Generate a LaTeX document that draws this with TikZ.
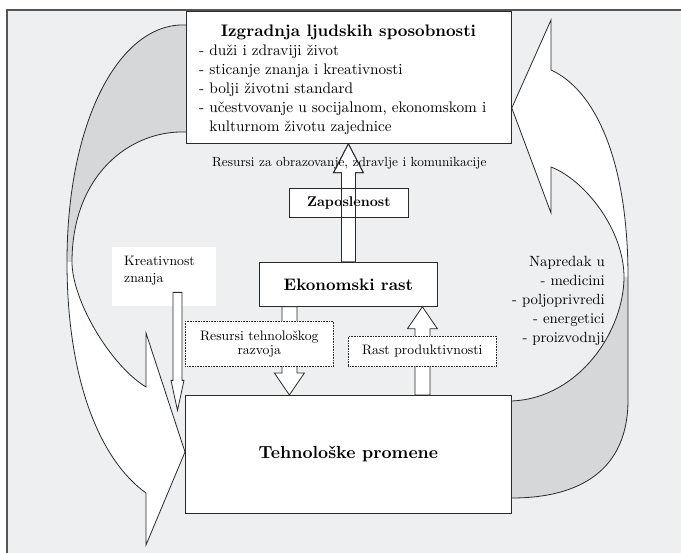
\documentclass[tikz,border=0pt]{standalone}
\usepackage{fontspec}
\setmainfont{lmroman10-regular.otf}[BoldFont=lmroman10-bold.otf, ItalicFont=lmroman10-italic.otf]
\usetikzlibrary{calc}
\definecolor{bgc}{HTML}{EEEFF1}
\definecolor{bandc}{HTML}{D6D7D9}
\definecolor{linec}{HTML}{2A2A2A}
\pgfdeclarelayer{back}
\pgfdeclarelayer{mid}
\pgfsetlayers{back,mid,main}
\newcommand\myvarrow[6]{%
  \path ($(#3)!#6pt!(#2)$) coordinate (hb);
  \draw[#1] ($(#2)+(-#4,0)$) -- ($(hb)+(-#4,0)$) -- ($(hb)+(-#5,0)$) -- (#3) -- ($(hb)+(#5,0)$) -- ($(hb)+(#4,0)$) -- ($(#2)+(#4,0)$) -- cycle;
}
\begin{document}
\begin{tikzpicture}[x=1pt,y=-1pt,
  box/.style={draw=linec, fill=white, line width=0.8pt, inner sep=0pt, rectangle},
  dotbox/.style={draw=linec, fill=white, line width=0.6pt, densely dotted, inner sep=0pt, rectangle},
  barrow/.style={draw=linec, fill=white, line width=0.8pt, line join=miter},
  bandline/.style={draw=linec, line width=0.8pt},
  head/.style={font=\fontsize{16.7}{20}\selectfont\bfseries, inner sep=0pt},
  body/.style={font=\fontsize{15.3}{19}\selectfont, inner sep=0pt},
  side/.style={font=\fontsize{14.8}{19}\selectfont, inner sep=0pt},
  small/.style={font=\fontsize{13.7}{14}\selectfont, inner sep=0pt},
]
\useasboundingbox (0,0) rectangle (681,553);
\begin{pgfonlayer}{back}
\path[fill=bgc] (7,10) rectangle (681,553);
\draw[linec!80, line width=1.2pt] (7,553) -- (7,10) -- (681,10);
\end{pgfonlayer}

% main boxes
\node[box, anchor=north west, minimum width=325pt, minimum height=132pt] (izg) at (186,11) {};
\node[box, anchor=north west, minimum width=326pt, minimum height=118pt, font=\fontsize{17.5}{20}\selectfont\bfseries] (teh) at (185,395) {Tehnološke promene};
\node[box, anchor=north west, minimum width=178pt, minimum height=44pt, font=\fontsize{16.65}{20}\selectfont\bfseries] (eko) at (259,262) {Ekonomski rast};

% curved arrows
\begin{pgfonlayer}{mid}
\coordinate (LA) at ($(izg.north west)+(0,14)$);
\coordinate (LB) at ($(izg.north west)+(0,121)$);
\coordinate (LT) at ($(teh.north west)+(0,57)$);
\path[fill=white] (LA) .. controls (120,22) and (67,120) .. (67,262) .. controls (67,380) and (100,460) .. (146,493) -- (146,545) -- (LT) -- (146,333) -- (146,387) .. controls (110,365) and (72,300) .. (72,262) .. controls (72,175) and (130,130) .. (LB) -- cycle;
\path[fill=bandc] (LA) .. controls (120,22) and (67,120) .. (67,262) -- (72,262) .. controls (72,175) and (130,130) .. (LB) -- cycle;
\draw[bandline] (LA) .. controls (120,22) and (67,120) .. (67,262) .. controls (67,380) and (100,460) .. (146,493) -- (146,545) -- (LT) -- (146,333) -- (146,387) .. controls (110,365) and (72,300) .. (72,262) .. controls (72,175) and (130,130) .. (LB);
\coordinate (RT) at ($(izg.north east)+(0,97)$);
\coordinate (RA) at ($(teh.north east)+(0,6)$);
\coordinate (RB) at ($(teh.north east)+(0,103)$);
\path[fill=white] (RB) .. controls (580,498) and (628,470) .. (628,400) -- (628,277) .. controls (628,160) and (595,90) .. (551,70) -- (551,20) -- (RT) -- (551,213) -- (551,167) .. controls (585,180) and (624,230) .. (624,277) .. controls (624,330) and (580,398) .. (RA) -- cycle;
\path[fill=bandc] (624,277) .. controls (624,330) and (580,398) .. (RA) -- (RB) .. controls (580,498) and (628,470) .. (628,400) -- (628,277) -- cycle;
\draw[bandline] (RB) .. controls (580,498) and (628,470) .. (628,400) -- (628,277) .. controls (628,160) and (595,90) .. (551,70) -- (551,20) -- (RT) -- (551,213) -- (551,167) .. controls (585,180) and (624,230) .. (624,277) .. controls (624,330) and (580,398) .. (RA);
\end{pgfonlayer}

% Izgradnja texts
\node[head, anchor=base] (izgt) at (348.5,37) {Izgradnja ljudskih sposobnosti};
\node[body, anchor=base west] (l1) at (199,56) {- duži i zdraviji život};
\node[body, anchor=base west] (l2) at (199,75) {- sticanje znanja i kreativnosti};
\node[body, anchor=base west] (l3) at (199,94) {- bolji životni standard};
\node[body, anchor=base west] (l4) at (199,113) {- učestvovanje u socijalnom, ekonomskom i};
\node[body, anchor=base west] (l5) at (199,132) {\phantom{- }kulturnom životu zajednice};

% up arrow to Izgradnja, with Zaposlenost
\coordinate (u2) at (izg.south -| eko.north);
\myvarrow{barrow}{eko.north}{u2}{7}{15}{29}
\node[small, font=\fontsize{13.3}{14}\selectfont, anchor=base west] (res) at (212,167) {Resursi za obrazovanje, zdravlje i komunikacije};
\node[box, anchor=north west, minimum width=119pt, minimum height=29pt, font=\fontsize{14.1}{17}\selectfont\bfseries] (zap) at (289,188) {Zaposlenost};
\myvarrow{barrow, fill=none}{eko.north}{u2}{7}{15}{29}

% down arrow: Resursi tehnoloskog razvoja
\coordinate (d1) at ([xshift=-59pt]eko.south);
\coordinate (d2) at (teh.north -| d1);
\myvarrow{barrow}{d1}{d2}{7.5}{15}{22}
\node[dotbox, anchor=north west, minimum width=148pt, minimum height=45pt, small, align=center] (rtr) at (185,321) {Resursi tehnološkog\\razvoja};

% up arrow: Rast produktivnosti
\coordinate (r2) at ([xshift=74pt]eko.south);
\coordinate (r1) at (teh.north -| r2);
\myvarrow{barrow}{r1}{r2}{7.5}{15}{22}
\node[dotbox, anchor=north west, minimum width=148pt, minimum height=30pt, small] (rpr) at (348,336) {Rast produktivnosti};

% Kreativnost znanja
\node[fill=white, anchor=north west, minimum width=104pt, minimum height=59pt, inner sep=0pt] (kre) at (112,247) {};
\node[small, anchor=base west] (kre1) at (124,266) {Kreativnost};
\node[small, anchor=base west] (kre2) at (124,283) {znanja};
\coordinate (k1) at ($(kre.south west)+(65.5,-14)$);
\coordinate (k2) at ($(k1)+(0,118)$);
\myvarrow{barrow}{k1}{k2}{4.5}{6.5}{30}

% Napredak
\node[side, anchor=base east] (np0) at (605,267) {Napredak u};
\node[side, anchor=base east] (np1) at (605,286) {- medicini};
\node[side, anchor=base east] (np2) at (605,305) {- poljoprivredi};
\node[side, anchor=base east] (np3) at (605,324) {- energetici};
\node[side, anchor=base east] (np4) at (605,343) {- proizvodnji};
\end{tikzpicture}
\end{document}
